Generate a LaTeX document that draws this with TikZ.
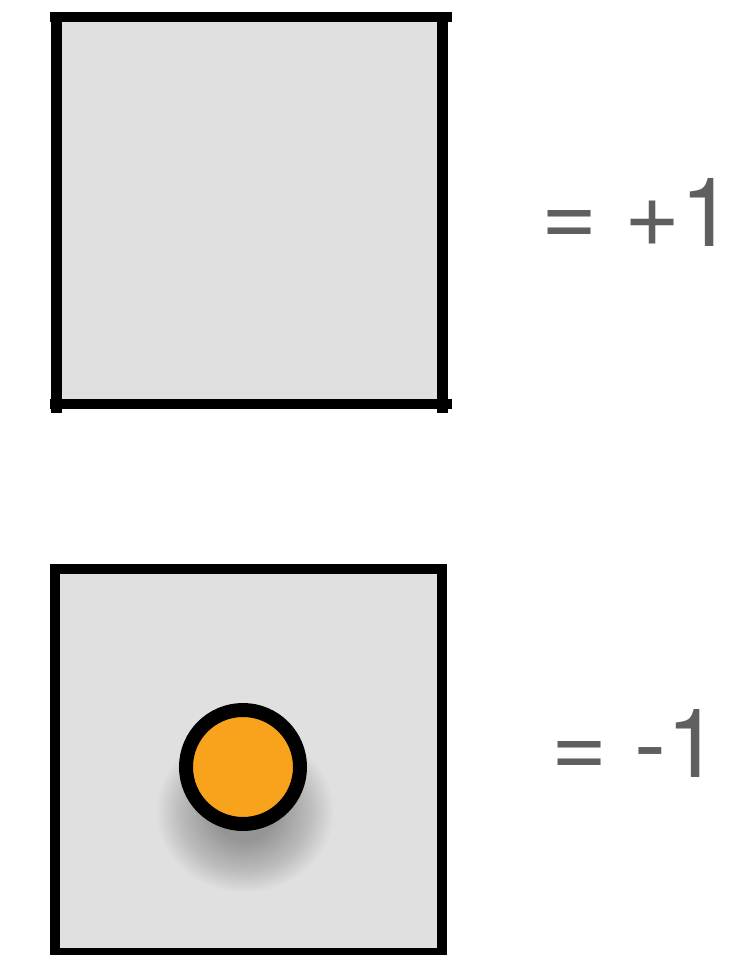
\documentclass[tikz,border=0pt]{standalone}
\usepackage{fontspec}
\setmainfont{TeX Gyre Heros}
\definecolor{boxgray}{HTML}{E0E0E0}
\definecolor{txtgray}{HTML}{5F5F5F}
\definecolor{dotorange}{HTML}{F9A21C}

\begin{document}
\begin{tikzpicture}[x=0.5pt,y=-0.5pt,line cap=butt,line join=miter,
  frame/.style={line width=5pt},
  value/.style={text=txtgray,font=\fontsize{48}{50}\selectfont,anchor=base west,inner sep=0pt}]
\useasboundingbox (0,0) rectangle (732,955);
% upper tile, edges run past the corners
\coordinate (A) at (56.5,17);
\coordinate (B) at (442,17);
\coordinate (C) at (442,404);
\coordinate (D) at (56.5,404);
\fill[boxgray] (A) rectangle (C);
\draw[frame] ([xshift=-3.25pt]A) -- ([xshift=5pt]B);
\draw[frame] ([xshift=-3.25pt]D) -- ([xshift=5pt]C);
\draw[frame,line width=5.5pt] (A) -- ([yshift=-4.5pt]D);
\draw[frame,line width=5.5pt] (B) -- ([yshift=-4.5pt]C);
\node[value] (plus) at (541,246) {= +1};
% lower tile with the dot
\coordinate (E) at (55,569);
\coordinate (F) at (441.5,953);
\coordinate (O) at (243,767);
\draw[frame,fill=boxgray] (E) rectangle (F);
% soft shadow, stacked faint ellipses
\foreach \k in {0,...,21}
  \fill[black,opacity=0.017] (245,812) ellipse[x radius={88-2.7*\k},y radius={80-2.4*\k}];
\draw[line width=7pt,fill=dotorange] (O) circle[radius=57];
\node[value] (minus) at (551,777) {= -1};
\end{tikzpicture}
\end{document}
